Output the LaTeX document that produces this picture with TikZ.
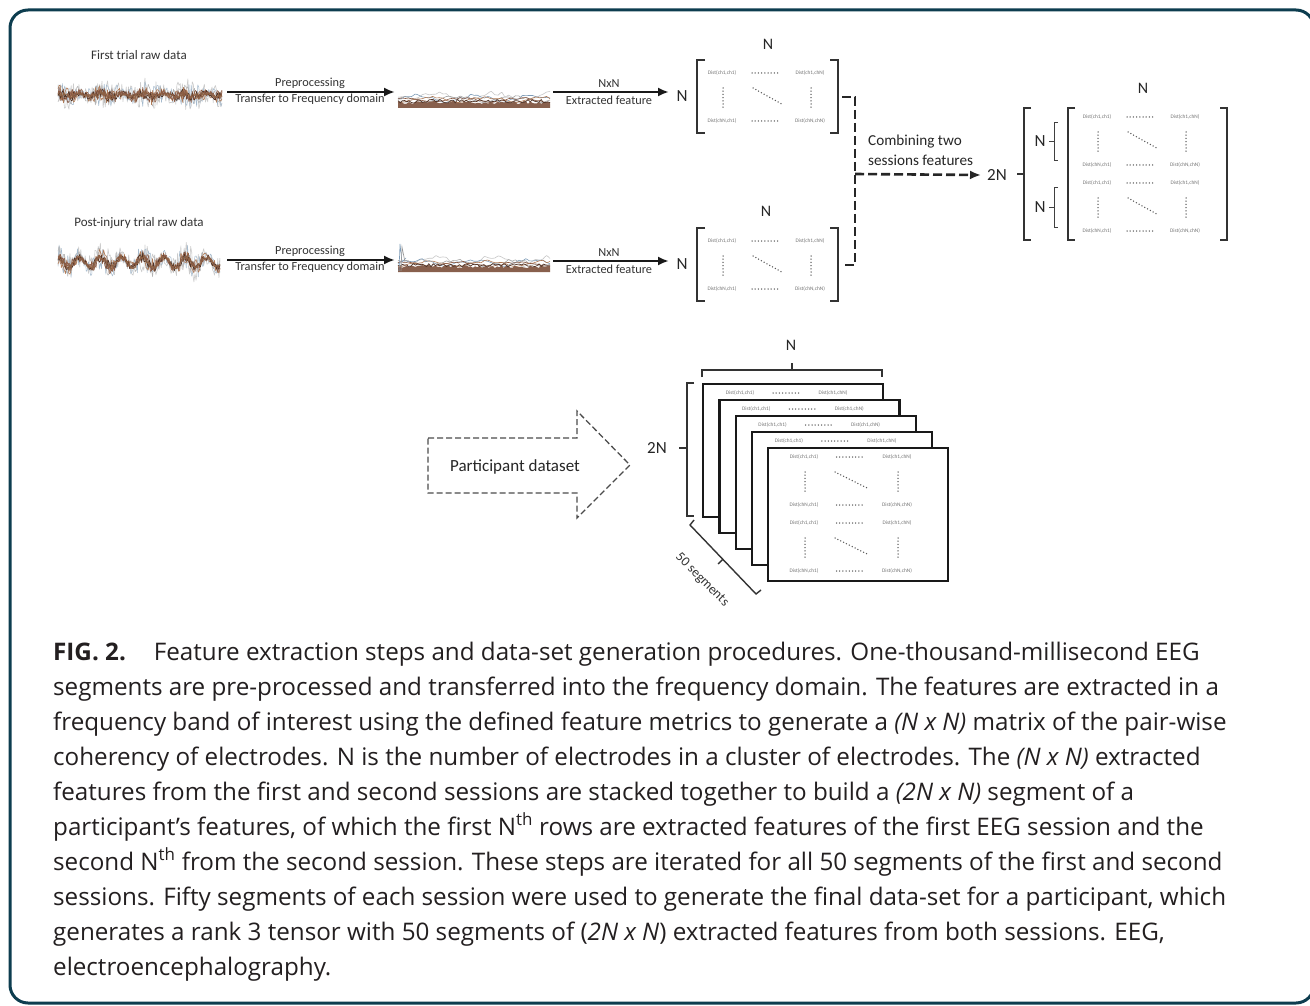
\documentclass[tikz,border=0pt]{standalone}
\usepackage{fontspec}
\setmainfont{Open Sans}
\newfontfamily\calfont{Carlito}
\usetikzlibrary{arrows.meta}
\definecolor{frameclr}{HTML}{0D3D4F}
\definecolor{captxt}{HTML}{231F20}
\definecolor{sigbrown}{HTML}{8A5A44}
\definecolor{sigorange}{HTML}{B07A55}
\definecolor{sigblue}{HTML}{7E9CB8}

\tikzset{
  lbl/.style={font=\calfont\fontsize{12.3}{14}\selectfont, text=black!80, inner sep=0pt},
  ttl/.style={font=\calfont\fontsize{13}{15}\selectfont, text=black!80, inner sep=0pt},
  biglbl/.style={font=\calfont\fontsize{17}{19}\selectfont, text=black!85, inner sep=0pt},
  toplbl/.style={font=\calfont\fontsize{16}{18}\selectfont, text=black!85, inner sep=0pt},
  comblbl/.style={font=\calfont\fontsize{15.2}{20}\selectfont, text=black!85, inner sep=0pt, align=left},
  dist/.style={font=\calfont\fontsize{5.3}{6}\selectfont, text=black!55, inner sep=0pt},
  brk/.style={line width=1.4pt, draw=black!80},
  thinbrk/.style={line width=0.8pt, draw=black!75},
  dotl/.style={line width=1.5pt, line cap=round, dash pattern=on 0pt off 3.2pt, draw=black!65},
  flow/.style={line width=2.4pt, draw=black!90, -{Latex[length=11pt,width=9pt]}},
  dflow/.style={line width=2.6pt, draw=black!85, dash pattern=on 9pt off 4pt},
  pdash/.style={line width=1.3pt, draw=black!70, dash pattern=on 6pt off 3pt},
  framebox/.style={draw=black!90, fill=white, line width=2.2pt, minimum width=180pt, minimum height=133pt, inner sep=0pt, anchor=north west},
  captext/.style={font=\fontsize{24.2}{28}\selectfont, text=captxt, inner sep=0pt, anchor=base west},
}

% raw noisy signal: #1 x0, #2 x1, #3 y centre, #4 slow wave amplitude
\newcommand\rawsig[4]{%
  \foreach \c/\a/\w in {black!20/15/0.6, sigblue!70/12/0.5, black!30/10/0.5, sigorange/8/0.6, sigbrown/7/0.6, black!45!sigbrown/5/0.7, sigbrown/4/0.8, sigorange!80!black/3/0.8}{%
    \draw[\c, line width=\w pt, line join=round] plot[domain=#1:#2, samples=150]
      (\x, {#3 + #4*sin(\x*17) + \a*rand*(0.5+0.6*abs(sin(\x*4.3)))});
  }}
% frequency domain signal: #1 baseline y
\newcommand\freqsig[1]{%
  \foreach \c/\k/\h in {black!22/0/12, sigblue/60/9, black!35/120/8, sigorange/200/7, sigbrown/280/6}{%
    \draw[\c, line width=0.6pt, line join=round] plot[smooth, domain=398:550, samples=45]
      (\x, {#1 - 5 - \h*abs(sin(\x*3.1+\k))*(0.6+0.4*rnd)});
  }
  \fill[sigbrown!85!gray] plot[domain=398:550, samples=70] (\x, {#1 - 4 - 3*rnd}) -- (550,#1) -- (398,#1) -- cycle;
  \draw[black!40!sigbrown, line width=0.7pt] plot[domain=398:550, samples=70] (\x, {#1 - 5 - 3.5*rnd});
}
% block of Dist entries: #1 name, #2 x, #3 y (centre of first entry), #4 offset of last column
\newcommand\distblock[4]{%
  \begin{scope}[shift={(#2,#3)}]
    \node[dist] (#1-a) at (0,0) {Dist(ch1,ch1)};
    \draw[dotl] ({#4/2-14},0) -- ({#4/2+14},0);
    \node[dist] (#1-b) at (#4,0) {Dist(ch1,chN)};
    \draw[dotl] (1,15) -- (1,35);
    \draw[dotl] (31,15) -- ({#4*0.7},32);
    \draw[dotl] (#4+1,15) -- (#4+1,35);
    \node[dist] (#1-c) at (0,48) {Dist(chN,ch1)};
    \draw[dotl] ({#4/2-14},48) -- ({#4/2+14},48);
    \node[dist] (#1-d) at (#4,48) {Dist(chN,chN)};
  \end{scope}}
% top row only
\newcommand\distrow[3]{%
  \begin{scope}[shift={(#2,#3)}]
    \node[dist] (#1-a) at (0,0) {Dist(ch1,ch1)};
    \draw[dotl] (33,0) -- (61,0);
    \node[dist] (#1-b) at (93,0) {Dist(ch1,chN)};
  \end{scope}}
% N x N matrix with brackets: #1 name, #2 x left bracket, #3 top
\newcommand\smallmat[3]{%
  \begin{scope}[shift={(#2,#3)}]
    \draw[brk] (8,0) -- (0,0) -- (0,73) -- (8,73);
    \draw[brk] (133,0) -- (141,0) -- (141,73) -- (133,73);
    \coordinate (#1-l) at (0,37);
    \coordinate (#1-r) at (141,37);
  \end{scope}
  \distblock{#1}{#2+25}{#3+13}{88}}

\begin{document}
\begin{tikzpicture}[x=1pt,y=-1pt]
\useasboundingbox (0,0) rectangle (1310,1006);
\fill[white] (0,0) rectangle (1310,1006);
\draw[line width=3pt, frameclr, rounded corners=18pt] (10,10) rectangle (1314,1003);
\pgfmathsetseed{11}

% ---------- first session ----------
\node[ttl] (t1) at (139,55) {First trial raw data};
\rawsig{58}{222}{95}{1.5}
\coordinate (r1) at (227,92);
\coordinate (f1) at (395,92);
\draw[flow] (r1) -- (f1);
\node[lbl] (p1a) at (310,83) {Preprocessing};
\node[lbl] (p1b) at (310,99) {Transfer to Frequency domain};
\freqsig{108}
\coordinate (g1) at (553,92);
\coordinate (h1) at (669,92);
\draw[flow] (g1) -- (h1);
\node[lbl] (e1a) at (609,84) {NxN};
\node[lbl] (e1b) at (609,100) {Extracted feature};
\node[biglbl] (n1) at (682,96) {N};
\smallmat{m1}{697}{60}
\node[toplbl] (n1t) at (768,44) {N};

% ---------- second session ----------
\node[ttl] (t2) at (139,223) {Post-injury trial raw data};
\rawsig{58}{220}{262}{5}
\coordinate (r2) at (227,260);
\coordinate (f2) at (395,260);
\draw[flow] (r2) -- (f2);
\node[lbl] (p2a) at (310,251) {Preprocessing};
\node[lbl] (p2b) at (310,267) {Transfer to Frequency domain};
\freqsig{272}
\draw[sigblue, line width=0.6pt] (399,271) -- (400,244) -- (402,262) -- (406,258);
\draw[black!40, line width=0.6pt] (401,271) -- (402,247) -- (405,262);
\coordinate (g2) at (553,261);
\coordinate (h2) at (669,261);
\draw[flow] (g2) -- (h2);
\node[lbl] (e2a) at (609,253) {NxN};
\node[lbl] (e2b) at (609,269) {Extracted feature};
\node[biglbl] (n2) at (682,264) {N};
\smallmat{m2}{697}{228}
\node[toplbl] (n2t) at (766,211) {N};

% ---------- combining ----------
\coordinate (j1) at (855,97);
\coordinate (j2) at (855,265);
\coordinate (jm) at (855,174);
\draw[dflow] ([xshift=4pt]m1-r |- j1) -- (j1) -- (j2) -- ([xshift=4pt]m2-r |- j2);
\node[comblbl, anchor=west] (comb) at (868,150) {Combining two\\sessions features};
\node[biglbl] (twoN) at (997,175) {2N};
\draw[dflow, -{Latex[length=11pt,width=9pt]}] (jm) -- ([xshift=-6pt]twoN.west);
\draw[brk] (1017,174) -- (1024,174);
\draw[brk] (1031,108) -- (1024,108) -- (1024,240) -- (1031,240);
\node[biglbl] (nA) at (1040,141) {N};
\draw[thinbrk] (1058,122) -- (1054,122) -- (1054,160) -- (1058,160);
\draw[thinbrk] (1049,141) -- (1054,141);
\node[biglbl] (nB) at (1040,207) {N};
\draw[thinbrk] (1058,187) -- (1054,187) -- (1054,227) -- (1058,227);
\draw[thinbrk] (1049,207) -- (1054,207);
\draw[brk] (1075,108) -- (1068,108) -- (1068,240) -- (1075,240);
\draw[brk] (1220,108) -- (1227,108) -- (1227,240) -- (1220,240);
\node[toplbl] (nC) at (1143,88) {N};
\distblock{cb1}{1097}{117}{88}
\distblock{cb2}{1097}{183}{88}

% ---------- participant dataset ----------
\draw[pdash] (428,438) -- (577,438) -- (577,411) -- (630,465) -- (577,518) -- (577,493) -- (428,493) -- cycle;
\node[biglbl] (pd) at (515,467) {Participant dataset};
\node[biglbl] (twoN2) at (657,448) {2N};
\draw[brk] (679,448) -- (687,448);
\draw[brk] (694,383) -- (687,383) -- (687,516) -- (694,516);
\node[toplbl] (nD) at (791,345) {N};
\draw[brk] (702,377) -- (702,370) -- (882,370) -- (882,377);
\draw[brk] (792,370) -- (792,363);
\foreach \i in {0,...,3}{
  \node[framebox] (fr\i) at ({702+16.3*\i},{383+16*\i}) {};
  \distrow{fr\i t}{702+16.3*\i+38}{383+16*\i+10}
}
\node[framebox] (fr4) at (767,447) {};
\distblock{f5a}{804}{457}{93}
\distblock{f5b}{804}{523}{93}
\draw[brk] (694,520) -- (690,525) -- (756,594) -- (761,590);
\draw[brk] (723,559) -- (718,564);
\node[font=\calfont\fontsize{13.5}{15}\selectfont, text=black!80, inner sep=0pt, rotate=-45] (seg) at (702,580) {50 segments};

% ---------- caption ----------
\node[captext] (c1) at (53,660) {\textbf{FIG. 2.}\hspace{28pt}Feature extraction steps and data-set generation procedures. One-thousand-millisecond EEG};
\node[captext] (c2) at (53,695) {segments are pre-processed and transferred into the frequency domain. The features are extracted in a};
\node[captext] (c3) at (53,730) {frequency band of interest using the defined feature metrics to generate a \textit{(N x N)} matrix of the pair-wise};
\node[captext] (c4) at (53,765) {coherency of electrodes. N is the number of electrodes in a cluster of electrodes. The \textit{(N x N)} extracted};
\node[captext] (c5) at (53,800) {features from the first and second sessions are stacked together to build a \textit{(2N x N)} segment of a};
\node[captext] (c6) at (53,835) {participant’s features, of which the first N\textsuperscript{th} rows are extracted features of the first EEG session and the};
\node[captext] (c7) at (53,870) {second N\textsuperscript{th} from the second session. These steps are iterated for all 50 segments of the first and second};
\node[captext] (c8) at (53,905) {sessions. Fifty segments of each session were used to generate the final data-set for a participant, which};
\node[captext] (c9) at (53,940) {generates a rank 3 tensor with 50 segments of (\textit{2N x N}) extracted features from both sessions. EEG,};
\node[captext] (c10) at (53,975) {electroencephalography.};
\end{tikzpicture}
\end{document}
